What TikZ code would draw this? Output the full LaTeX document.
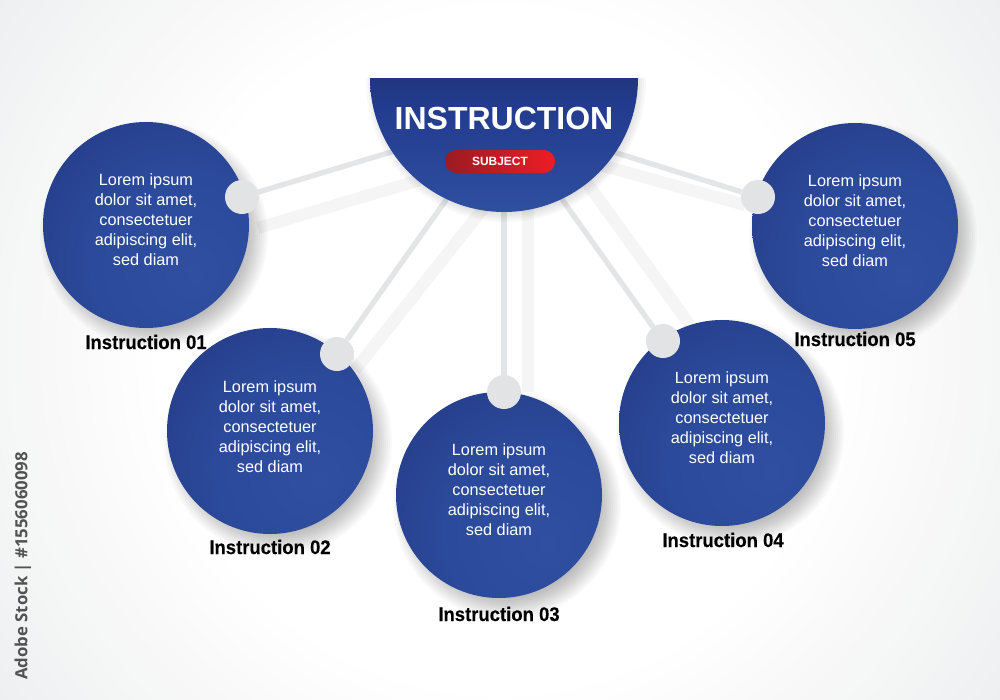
\documentclass[tikz,border=0pt]{standalone}
\usepackage{fontspec}
\setmainfont{Liberation Sans}
\newfontfamily\sidefont{Open Sans}
\newfontfamily\capfont{Liberation Sans}[BoldFeatures={FakeStretch=0.94,FakeBold=0.3}]
\pgfdeclarelayer{backdrop}\pgfdeclarelayer{links}
\pgfsetlayers{backdrop,links,main}
\definecolor{discA}{HTML}{304FA0}\definecolor{discB}{HTML}{2C4A9B}
\definecolor{discC}{HTML}{243C88}\definecolor{discD}{HTML}{1C2A62}
\definecolor{hubA}{HTML}{212F6A}\definecolor{hubB}{HTML}{223B8E}\definecolor{hubC}{HTML}{2F4FA0}
\definecolor{linkgrey}{HTML}{E4E5E6}\definecolor{raygrey}{HTML}{F5F5F6}
\definecolor{dotgrey}{HTML}{E2E3E5}
\definecolor{pillA}{HTML}{9B1B22}\definecolor{pillB}{HTML}{EE1C25}
\definecolor{bgout}{HTML}{EEEFF0}
\pgfdeclareradialshading{discshade}{\pgfpoint{12bp}{-12bp}}{color(0bp)=(discA);color(22bp)=(discB);color(42bp)=(discC);color(60bp)=(discD);color(100bp)=(discD)}
\pgfdeclareverticalshading{hubshade}{100bp}{color(0bp)=(hubC);color(25bp)=(hubC);color(65bp)=(hubB);color(90bp)=(hubA);color(100bp)=(hubA)}
\newcommand{\softshadow}[3]{\foreach \sr in {0,2,...,24}{\fill[black,opacity=.022] (#1,#2) circle[radius=#3+\sr];}}
\tikzset{
  x=0.03cm,y=-0.03cm,
  discnode/.style={circle,minimum size=6.18cm,inner sep=0pt,shading=discshade},
  loremnode/.style={text=white,align=center,inner sep=0pt,font=\fontsize{13.9pt}{17.05pt}\selectfont},
  dotnode/.style={circle,minimum size=1.02cm,inner sep=0pt,fill=dotgrey},
  capnode/.style={font=\capfont\fontsize{16.8pt}{20pt}\selectfont\bfseries,text=black,inner sep=0pt},
  linkline/.style={draw=linkgrey,line width=0.16cm},
  rayline/.style={draw=raygrey,line width=0.36cm},
}
\begin{document}
\begin{tikzpicture}
\useasboundingbox (0,0) rectangle (1000,700);
\begin{pgfonlayer}{backdrop}
\fill[bgout] (0,0) rectangle (1000,700);
\foreach \i in {0,...,17}{
  \pgfmathsetmacro{\bgmix}{\i*100/17}
  \fill[white!\bgmix!bgout] (500,350) circle[radius=620-\i*16];
}
\end{pgfonlayer}

% faint rays
\coordinate (s1) at (420,180);\coordinate (r1) at (258,228);
\coordinate (s2) at (490,200);\coordinate (r2) at (355,370);
\coordinate (s3) at (528,200);\coordinate (r3) at (528,392);
\coordinate (s4) at (585,180);\coordinate (r4) at (690,325);
\coordinate (s5) at (600,165);\coordinate (r5) at (745,205);

% hub
\begin{scope}
\clip (340,78) rectangle (680,260);
\softshadow{506}{82}{116}
\end{scope}
\shade[shading=hubshade] (370,78) arc[start angle=180,end angle=0,radius=134] -- cycle;
\node[font=\fontsize{27.3pt}{30pt}\selectfont\bfseries,text=white,inner sep=0pt] (hub) at (504,118) {INSTRUCTION};
\node[rounded corners=0.34cm,minimum width=3.3cm,minimum height=0.69cm,inner sep=0pt,left color=pillA,right color=pillB,
  text=white,font=\fontsize{10.2pt}{12pt}\selectfont\bfseries] (subject) at (500,161.5) {SUBJECT};

% discs
\softshadow{154}{235}{90}
\softshadow{278}{441}{90}
\softshadow{507}{505}{90}
\softshadow{730}{433}{90}
\softshadow{863}{236}{90}
\node[discnode] (d1) at (146,225) {};
\node[discnode] (d2) at (270,431) {};
\node[discnode] (d3) at (499,495) {};
\node[discnode] (d4) at (722,423) {};
\node[discnode] (d5) at (855,226) {};
\node[loremnode] (t1) at (146,220) {Lorem ipsum\\dolor sit amet,\\consectetuer\\adipiscing elit,\\sed diam};
\node[loremnode] (t2) at (270,427) {Lorem ipsum\\dolor sit amet,\\consectetuer\\adipiscing elit,\\sed diam};
\node[loremnode] (t3) at (499,490) {Lorem ipsum\\dolor sit amet,\\consectetuer\\adipiscing elit,\\sed diam};
\node[loremnode] (t4) at (722,418) {Lorem ipsum\\dolor sit amet,\\consectetuer\\adipiscing elit,\\sed diam};
\node[loremnode] (t5) at (855,221) {Lorem ipsum\\dolor sit amet,\\consectetuer\\adipiscing elit,\\sed diam};

% dots
\node[dotnode] (p1) at (242,197) {};
\node[dotnode] (p2) at (337,354) {};
\node[dotnode] (p3) at (504,392) {};
\node[dotnode] (p4) at (663,341) {};
\node[dotnode] (p5) at (758,197) {};

\begin{pgfonlayer}{links}
\foreach \n in {1,...,5} \draw[rayline] (s\n) -- (r\n);
\foreach \p in {p1,p2,p3,p4,p5} \draw[linkline] (hub.center) -- (\p);
\end{pgfonlayer}

% captions
\node[capnode] (c1) at (146,342) {Instruction 01};
\node[capnode] (c2) at (270,547) {Instruction 02};
\node[capnode] (c3) at (499,614) {Instruction 03};
\node[capnode] (c4) at (723,540) {Instruction 04};
\node[capnode] (c5) at (855,339) {Instruction 05};

\node[rotate=90,text=black!68,inner sep=0pt,font=\sidefont\fontsize{14.3pt}{18pt}\selectfont\bfseries] (side) at (23,566) {Adobe Stock | \#1556060098};
\end{tikzpicture}
\end{document}
